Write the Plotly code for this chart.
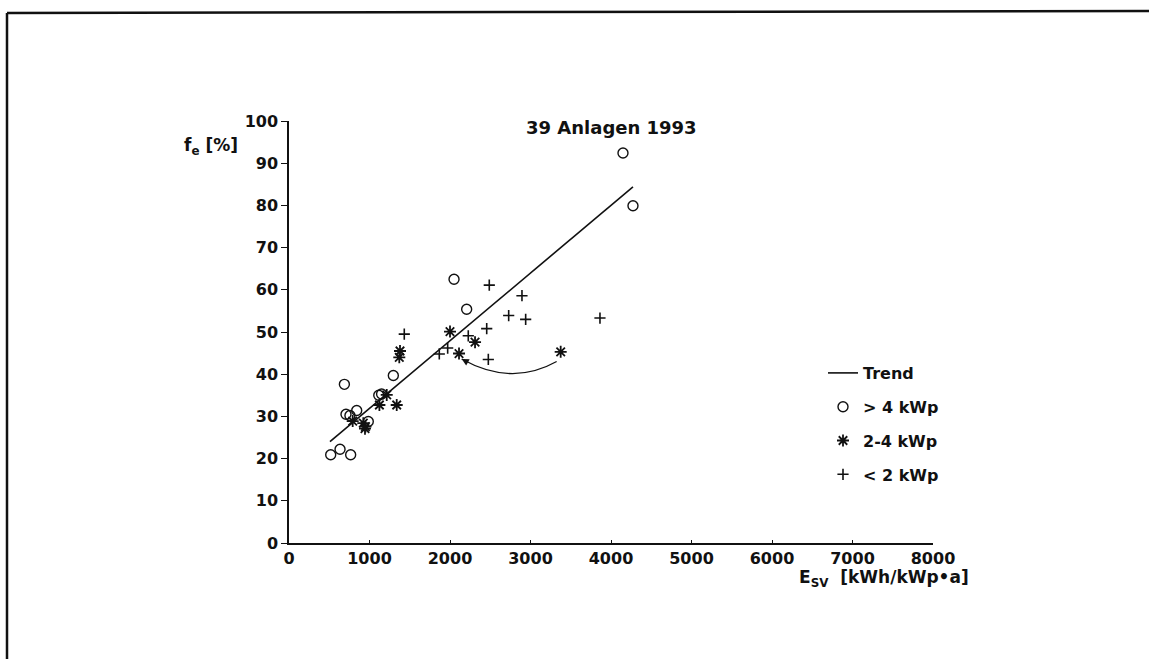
import plotly.graph_objects as go

# ---- data ----
big_x = [2050, 2207, 688, 1296, 1115, 1150, 708, 757, 841, 985, 518, 634, 766, 4149, 4273]
big_y = [62.5, 55.4, 37.6, 39.7, 35.0, 35.3, 30.5, 30.2, 31.4, 28.8, 20.9, 22.2, 20.9, 92.4, 79.9]

mid_x = [2000, 2112, 2311, 1379, 1370, 1338, 1123, 1214, 791, 923, 944, 950, 3375]
mid_y = [50.1, 44.9, 47.6, 45.5, 44.0, 32.7, 32.7, 35.1, 28.9, 28.4, 27.1, 27.6, 45.3]

small_x = [2488, 2894, 2729, 2940, 2456, 1432, 2227, 1971, 1867, 2476, 3863]
small_y = [61.1, 58.6, 53.9, 53.0, 50.8, 49.5, 49.1, 46.2, 44.8, 43.5, 53.3]

trend_x = [509, 4273]
trend_y = [24.0, 84.4]

x_ticks = [0, 1000, 2000, 3000, 4000, 5000, 6000, 7000, 8000]
y_ticks = [0, 10, 20, 30, 40, 50, 60, 70, 80, 90, 100]

title_text = "39 Anlagen 1993"
names = ["Trend", "> 4 kWp", "2-4 kWp", "< 2 kWp"]

# curved arrow (annotation) from the outlier towards the cloud
arrow_from = (3325, 43.0)
arrow_ctrl = (2765, 37.0)
arrow_to = (2145, 43.6)

FONT = "DejaVu Sans"
BLACK = "#111111"

fig = go.Figure()
fig.add_trace(go.Scatter(x=trend_x, y=trend_y, mode="lines", name=names[0],
                         line=dict(color=BLACK, width=1.6), legendgroup="a"))
fig.add_trace(go.Scatter(x=big_x, y=big_y, mode="markers", name=names[1], legendgroup="b",
                         marker=dict(symbol="circle-open", size=10, color=BLACK,
                                     line=dict(width=1.4, color=BLACK))))
fig.add_trace(go.Scatter(x=mid_x, y=mid_y, mode="markers", name=names[2], legendgroup="c",
                         marker=dict(symbol="asterisk-open", size=10, color=BLACK,
                                     line=dict(width=1.8, color=BLACK))))
fig.add_trace(go.Scatter(x=small_x, y=small_y, mode="markers", name=names[3], legendgroup="d",
                         marker=dict(symbol="cross-thin-open", size=8, color=BLACK,
                                     line=dict(width=1.6, color=BLACK))))

# curved arrow
fig.add_shape(type="path", xref="x", yref="y",
              path=f"M {arrow_from[0]},{arrow_from[1]} Q {arrow_ctrl[0]},{arrow_ctrl[1]} {arrow_to[0]},{arrow_to[1]}",
              line=dict(color=BLACK, width=1.3))
tail_x = arrow_to[0] + 0.12 * (arrow_ctrl[0] - arrow_to[0])
tail_y = arrow_to[1] + 0.12 * (arrow_ctrl[1] - arrow_to[1])
fig.add_annotation(x=arrow_to[0], y=arrow_to[1], ax=tail_x, ay=tail_y,
                   xref="x", yref="y", axref="x", ayref="y", text="",
                   showarrow=True, arrowhead=2, arrowsize=1.1, arrowwidth=1.3,
                   arrowcolor=BLACK)

# title
fig.add_annotation(x=0.5, y=(543 - 127) / 422, xref="paper", yref="paper",
                   text=title_text, showarrow=False, xanchor="center", yanchor="middle",
                   font=dict(family=FONT, size=18, color=BLACK, weight="bold"))
# axis titles
fig.add_annotation(x=(240 - 289) / 644, y=(543 - 146) / 422, xref="paper", yref="paper",
                   text="f<sub>e</sub> [%]", showarrow=False, xanchor="right", yanchor="middle",
                   font=dict(family=FONT, size=17, color=BLACK, weight="bold"))
fig.add_annotation(x=(971 - 289) / 644, y=(543 - 578) / 422, xref="paper", yref="paper",
                   text="E<sub>SV</sub>  [kWh/kWp\u2022a]", showarrow=False,
                   xanchor="right", yanchor="middle",
                   font=dict(family=FONT, size=17, color=BLACK, weight="bold"))

# page frame (left and top)
fig.add_shape(type="line", xref="paper", yref="paper",
              x0=(7 - 289) / 644, x1=(7 - 289) / 644, y0=(543 - 659) / 422, y1=(543 - 13) / 422,
              line=dict(color=BLACK, width=2.5))
fig.add_shape(type="line", xref="paper", yref="paper",
              x0=(7 - 289) / 644, x1=(1149 - 289) / 644, y0=(543 - 13) / 422, y1=(543 - 11) / 422,
              line=dict(color=BLACK, width=2.5))

tickfont = dict(family=FONT, size=16, color=BLACK, weight="bold")
fig.update_xaxes(range=[0, 8000], tickvals=x_ticks, ticktext=[str(v) for v in x_ticks],
                 showgrid=False, zeroline=False, showline=True, linecolor=BLACK, linewidth=1.5,
                 ticks="inside", ticklen=3, tickcolor=BLACK, tickwidth=1, tickfont=tickfont)
fig.update_yaxes(range=[0, 100], tickvals=y_ticks, ticktext=[str(v) for v in y_ticks],
                 showgrid=False, zeroline=False, showline=True, linecolor=BLACK, linewidth=1.5,
                 ticks="outside", ticklen=6, tickcolor=BLACK, tickwidth=1.2, tickfont=tickfont)

fig.update_layout(
    width=1149, height=659,
    margin=dict(l=289, r=216, t=121, b=116),
    paper_bgcolor="white", plot_bgcolor="white",
    showlegend=True,
    legend=dict(x=(823 - 289) / 644, y=(543 - 356) / 422, xanchor="left", yanchor="top",
                font=dict(family=FONT, size=16, color=BLACK, weight="bold"),
                tracegroupgap=10, bgcolor="rgba(0,0,0,0)", itemwidth=30),
)

fig.write_html("out.html")
